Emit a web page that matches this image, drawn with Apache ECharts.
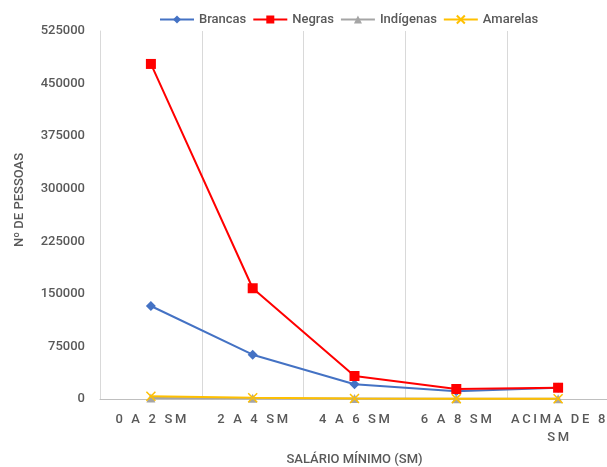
<!DOCTYPE html>
<html>
<head>
<meta charset="utf-8">
<script src="https://cdn.jsdelivr.net/npm/echarts@6/dist/echarts.min.js"></script>
<style>
html,body{margin:0;padding:0;background:#fff;}
#chart{width:607px;height:467px;}
</style>
</head>
<body>
<div id="chart"></div>
<script>
// Faixas salariais (eixo x)
const categories = ['0 A 2 SM', '2 A 4 SM', '4 A 6 SM', '6 A 8 SM', 'ACIMA DE 8\nSM'];

// Número de pessoas por cor/raça
const brancas = [132700, 63200, 21000, 11000, 16000];
const negras = [478000, 158000, 32800, 14300, 16100];
const indigenas = [1500, 1000, 600, 400, 300];
const amarelas = [4000, 1800, 800, 500, 400];

// Escala do eixo y
const yMax = 525000;
const yStep = 75000;

const font = 'Roboto';
const textColor = '#595959';
const crossPath = 'path://M0,0 L10,10 M10,0 L0,10';

// Espaçamento entre letras dos rótulos de categoria
function spaced(s) {
  return s.split('\n').map(function (line) {
    return line.split('').join('\u2009');
  }).join('\n');
}

function lineSeries(name, data, color, symbol, size, extra) {
  return Object.assign({
    name: name,
    type: 'line',
    data: data,
    symbol: symbol,
    symbolSize: size,
    color: color,
    lineStyle: { color: color, width: 2 },
    itemStyle: { color: color },
    emphasis: { disabled: true }
  }, extra || {});
}

const chart = echarts.init(document.getElementById('chart'));
chart.setOption({
  animation: false,
  backgroundColor: '#fff',
  legend: {
    top: 8,
    left: 154,
    itemWidth: 34,
    itemHeight: 10,
    itemGap: 6,
    textStyle: { color: textColor, fontFamily: font, fontWeight: 500, fontSize: 13 },
    data: ['Brancas', 'Negras', 'Indígenas', 'Amarelas']
  },
  grid: { left: 100, right: -2, top: 31, bottom: 68, outerBoundsMode: 'none' },
  xAxis: {
    type: 'category',
    data: categories,
    boundaryGap: true,
    name: 'SALÁRIO MÍNIMO (SM)',
    nameLocation: 'middle',
    nameGap: 54,
    nameTextStyle: { color: textColor, fontFamily: font, fontWeight: 500, fontSize: 13 },
    axisLine: { lineStyle: { color: '#bfbfbf' } },
    axisTick: { show: false },
    splitLine: { show: true, lineStyle: { color: '#d9d9d9' } },
    axisLabel: {
      color: textColor, fontFamily: font, fontWeight: 500, fontSize: 13,
      margin: 12, interval: 0, lineHeight: 18, formatter: spaced
    }
  },
  yAxis: {
    type: 'value',
    min: 0,
    max: yMax,
    interval: yStep,
    name: 'Nº DE PESSOAS',
    nameLocation: 'middle',
    nameGap: 74,
    nameTextStyle: { color: textColor, fontFamily: font, fontWeight: 500, fontSize: 13, padding: [0, 0, 0, 30] },
    axisLine: { show: true, lineStyle: { color: '#d9d9d9' } },
    axisTick: { show: false },
    splitLine: { show: false },
    axisLabel: {
      color: textColor, fontFamily: font, fontWeight: 500, fontSize: 13, margin: 15,
      formatter: function (v) { return String(v); }
    }
  },
  series: [
    lineSeries('Brancas', brancas, '#4472C4', 'diamond', 10),
    lineSeries('Negras', negras, '#FF0000', 'rect', 10),
    lineSeries('Indígenas', indigenas, '#A5A5A5', 'triangle', 9),
    lineSeries('Amarelas', amarelas, '#FFC000', crossPath, 9, {
      itemStyle: { color: 'none', borderColor: '#FFC000', borderWidth: 1.5 }
    })
  ]
});
</script>
</body>
</html>
